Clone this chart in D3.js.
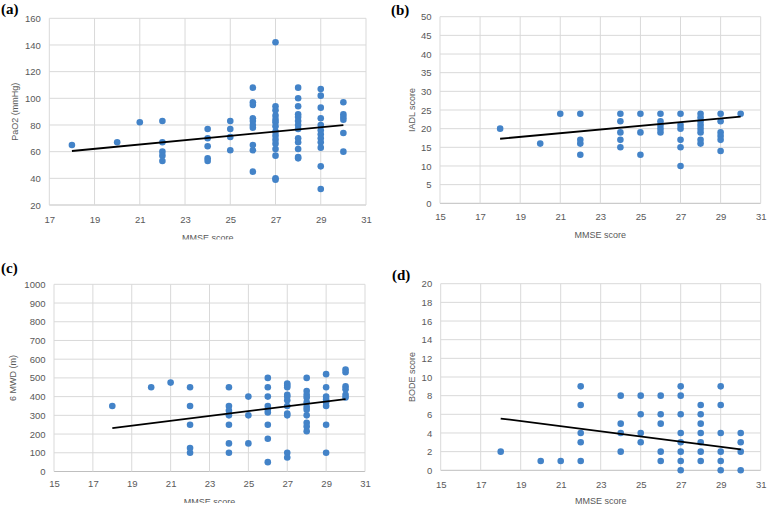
<!DOCTYPE html>
<html>
<head>
<meta charset="utf-8">
<script src="https://cdn.jsdelivr.net/npm/d3@7"></script>
<style>
  body { margin: 0; background: #fff; }
  svg { display: block; }
  .tick text { font-family: "Liberation Sans", Arial, sans-serif; font-size: 9.5px; fill: #595959; }
  .title { font-family: "Liberation Sans", Arial, sans-serif; font-size: 9px; fill: #595959; }
  .letter { font-family: "Liberation Serif", "Times New Roman", serif; font-size: 15px; font-weight: bold; fill: #000; }
</style>
</head>
<body>
<svg width="768" height="506"></svg>
<script>
// values, grouped by MMSE score
var paO2 = [
  [18, [65]], [20, [67]], [21, [82]],
  [22, [83, 67, 60, 57, 53]],
  [24, [77, 70, 64, 55, 53]],
  [25, [83, 77, 71, 61]],
  [26, [108, 97, 95, 85, 83, 80, 78, 65, 61, 45]],
  [27, [142, 94, 91, 87, 84, 82, 79, 75, 72, 69, 66, 62, 57, 40, 39]],
  [28, [108, 100, 94, 88, 86, 83, 80, 77, 70, 67, 62, 56, 55]],
  [29, [107, 102, 93, 85, 80, 76, 73, 70, 67, 63, 49, 32]],
  [30, [97, 88, 86, 84, 74, 60]]
];
var iadl = [
  [18, [20]], [20, [16]], [21, [24]],
  [22, [24, 17, 16, 13]],
  [24, [24, 22, 19, 17, 15]],
  [25, [24, 19, 13]],
  [26, [24, 22, 21, 20, 19]],
  [27, [24, 21, 20, 17, 15, 10]],
  [28, [24, 23, 22, 21, 20, 19, 17, 16]],
  [29, [24, 22, 19, 18, 17, 14]],
  [30, [24]]
];
var mwd = [
  [18, [350]], [20, [450]], [21, [475]],
  [22, [450, 350, 250, 125, 100]],
  [24, [450, 350, 325, 300, 250, 150, 100]],
  [25, [400, 300, 150]],
  [26, [500, 450, 400, 350, 330, 315, 250, 175, 50]],
  [27, [470, 460, 450, 410, 400, 380, 350, 310, 300, 100, 75]],
  [28, [500, 430, 410, 395, 370, 345, 330, 300, 260, 240, 215]],
  [29, [520, 450, 400, 385, 370, 350, 250, 100]],
  [30, [545, 530, 455, 440, 410, 395]]
];
var bode = [
  [18, [2]], [20, [1]], [21, [1]],
  [22, [9, 7, 4, 3, 1]],
  [24, [8, 5, 4, 2]],
  [25, [8, 6, 4, 3]],
  [26, [8, 6, 5, 2, 1]],
  [27, [9, 8, 6, 4, 3, 2, 1, 0]],
  [28, [7, 6, 5, 4, 3, 2, 1]],
  [29, [9, 7, 4, 2, 1, 0]],
  [30, [4, 3, 2, 0]]
];

// fitted trend lines (ends)
var trendA = [[18, 60.5], [30, 79.9]];
var trendB = [[18, 17.3], [30, 23.2]];
var trendC = [[18, 232], [30, 387]];
var trendD = [[18, 5.55], [30, 2.25]];

var xTicksA = [17, 19, 21, 23, 25, 27, 29, 31];
var xTicks = [15, 17, 19, 21, 23, 25, 27, 29, 31];
var yTicksA = [20, 40, 60, 80, 100, 120, 140, 160];
var yTicksB = [0, 5, 10, 15, 20, 25, 30, 35, 40, 45, 50];
var yTicksC = [0, 100, 200, 300, 400, 500, 600, 700, 800, 900, 1000];
var yTicksD = [0, 2, 4, 6, 8, 10, 12, 14, 16, 18, 20];

var svg = d3.select('svg');

function flatten(groups) {
  var out = [];
  groups.forEach(function(g) {
    g[1].forEach(function(v) { out.push([g[0], v]); });
  });
  return out;
}

var panels = [
  { id: 'a', letter: '(a)', lx: 1, ly: 14, left: 49.3, right: 366, top: 18.3, bottom: 205,
    xDomain: [17, 31], yDomain: [20, 160], xTicks: xTicksA, yTicks: yTicksA,
    data: paO2, trend: trendA, yTitle: 'PaO2 (mmHg)', yTitleX: 15, xGap: 11.5, xTitleY: 240.5, clip: 239.5 },
  { id: 'b', letter: '(b)', lx: 391, ly: 15, left: 440, right: 760.7, top: 16.7, bottom: 203.3,
    xDomain: [15, 31], yDomain: [0, 50], xTicks: xTicks, yTicks: yTicksB,
    data: iadl, trend: trendB, yTitle: 'IADL score', yTitleX: 412, xGap: 10, xTitleY: 238 },
  { id: 'c', letter: '(c)', lx: 1, ly: 273, left: 54, right: 365, top: 284.3, bottom: 471.5,
    xDomain: [15, 31], yDomain: [0, 1000], xTicks: xTicks, yTicks: yTicksC,
    data: mwd, trend: trendC, yTitle: '6 MWD (m)', yTitleX: 13, xGap: 8.5, xTitleY: 505, clip: 503 },
  { id: 'd', letter: '(d)', lx: 392, ly: 280, left: 440.7, right: 760.7, top: 283.7, bottom: 470.3,
    xDomain: [15, 31], yDomain: [0, 20], xTicks: xTicks, yTicks: yTicksD,
    data: bode, trend: trendD, yTitle: 'BODE score', yTitleX: 412, xGap: 10.5, xTitleY: 504 }
];

panels.forEach(function(p) {
  var g = svg.append('g');
  if (p.clip) {
    svg.append('clipPath').attr('id', 'clip-' + p.id)
      .append('rect').attr('x', 0).attr('y', 0).attr('width', 768).attr('height', p.clip);
    g.attr('clip-path', 'url(#clip-' + p.id + ')');
  }

  var x = d3.scaleLinear().domain(p.xDomain).range([p.left, p.right]);
  var y = d3.scaleLinear().domain(p.yDomain).range([p.bottom, p.top]);

  // gridlines
  g.append('g').selectAll('line.h')
    .data(p.yTicks)
    .enter().append('line')
      .attr('x1', p.left).attr('x2', p.right)
      .attr('y1', d => y(d)).attr('y2', d => y(d))
      .attr('stroke', d => d === p.yDomain[0] ? '#bfbfbf' : '#d9d9d9')
      .attr('stroke-width', 1);
  g.append('g').selectAll('line.v')
    .data(p.xTicks)
    .enter().append('line')
      .attr('x1', d => x(d)).attr('x2', d => x(d))
      .attr('y1', p.top).attr('y2', p.bottom)
      .attr('stroke', '#d9d9d9')
      .attr('stroke-width', 1);

  // axes (labels only)
  var xAxis = g.append('g')
    .attr('transform', 'translate(0,' + p.bottom + ')')
    .call(d3.axisBottom(x).tickValues(p.xTicks).tickFormat(d3.format('d')).tickSize(0).tickPadding(p.xGap));
  var yAxis = g.append('g')
    .attr('transform', 'translate(' + p.left + ',0)')
    .call(d3.axisLeft(y).tickValues(p.yTicks).tickFormat(d3.format('d')).tickSize(0).tickPadding(8.5));
  xAxis.select('.domain').remove();
  yAxis.select('.domain').remove();
  g.selectAll('.tick text').attr('font-family', null).attr('font-size', null);

  // points
  g.append('g').selectAll('circle')
    .data(flatten(p.data))
    .enter().append('circle')
      .attr('cx', d => x(d[0]))
      .attr('cy', d => y(d[1]))
      .attr('r', 3.3)
      .attr('fill', '#4383c8');

  // trend line
  g.append('path')
    .datum(p.trend)
    .attr('d', d3.line().x(d => x(d[0])).y(d => y(d[1])))
    .attr('fill', 'none')
    .attr('stroke', '#000')
    .attr('stroke-width', 1.8);

  // titles
  g.append('text').attr('class', 'title')
    .attr('x', (p.left + p.right) / 2).attr('y', p.xTitleY)
    .attr('text-anchor', 'middle')
    .text('MMSE score');
  g.append('text').attr('class', 'title')
    .attr('transform', 'translate(' + p.yTitleX + ',' + (p.top + p.bottom) / 2 + ') rotate(-90)')
    .attr('text-anchor', 'middle')
    .attr('dy', '0.35em')
    .text(p.yTitle);
  svg.append('text').attr('class', 'letter')
    .attr('x', p.lx).attr('y', p.ly)
    .text(p.letter);
});
</script>
</body>
</html>
